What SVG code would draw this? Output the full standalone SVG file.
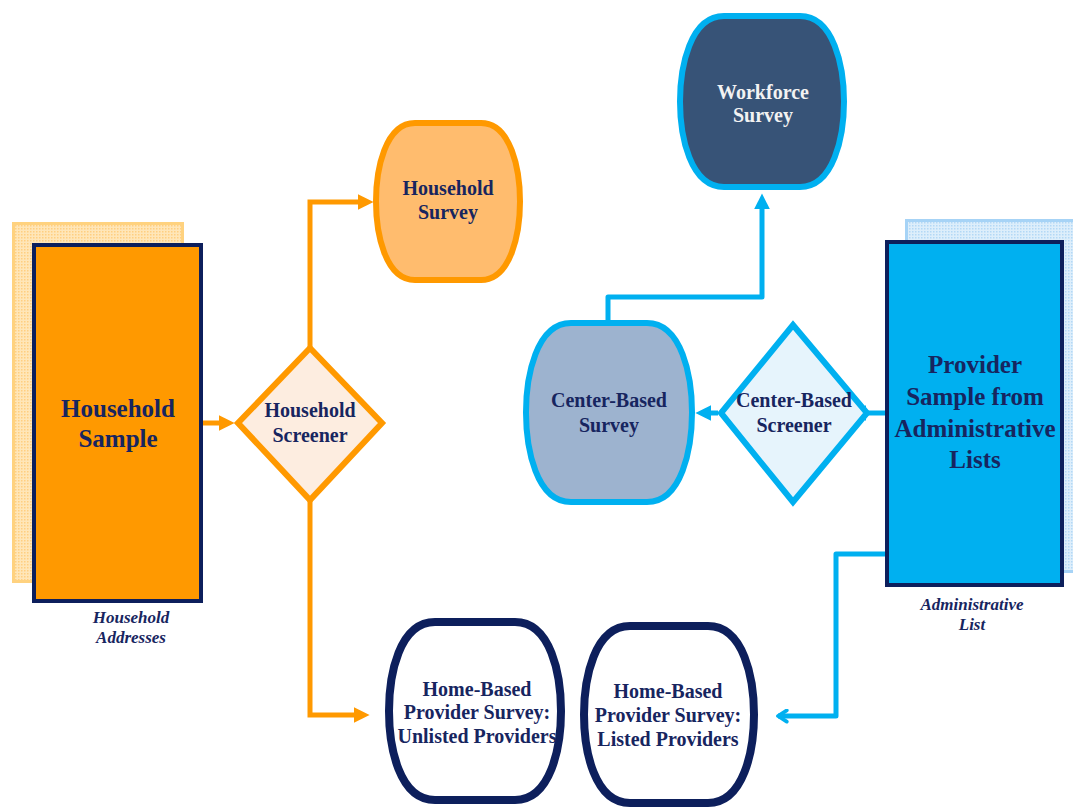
<svg xmlns="http://www.w3.org/2000/svg" width="1073" height="807" viewBox="0 0 1073 807">
  <defs>
    <pattern id="dotsOrange" width="3" height="3" patternUnits="userSpaceOnUse">
      <rect width="3" height="3" fill="#FFE6B8"/>
      <rect width="1.5" height="1.5" fill="#FFCF80"/>
    </pattern>
    <pattern id="dotsBlue" width="3" height="3" patternUnits="userSpaceOnUse">
      <rect width="3" height="3" fill="#DDEEFB"/>
      <rect width="1.5" height="1.5" fill="#B3D8F6"/>
    </pattern>
    <marker id="arrOrange" viewBox="0 0 10 10" refX="4" refY="5" markerWidth="16" markerHeight="16" markerUnits="userSpaceOnUse" orient="auto">
      <path d="M0,0 L10,5 L0,10 Z" fill="#FF9900"/>
    </marker>
    <marker id="arrBlue" viewBox="0 0 10 10" refX="4" refY="5" markerWidth="16" markerHeight="16" markerUnits="userSpaceOnUse" orient="auto">
      <path d="M0,0 L10,5 L0,10 Z" fill="#00B0F0"/>
    </marker>
    <marker id="chevBlue" viewBox="0 0 12 12" refX="10" refY="6" markerWidth="15" markerHeight="15" markerUnits="userSpaceOnUse" orient="auto">
      <path d="M3,1.5 L10,6 L3,10.5" fill="none" stroke="#00B0F0" stroke-width="3" stroke-linecap="round" stroke-linejoin="round"/>
    </marker>
  </defs>
  <style>
    .lbl { font-family: "Liberation Serif", "Times New Roman", serif; font-weight: bold; fill: #17255F; text-anchor: middle; }
    .big { font-size: 25px; }
    .mid { font-size: 20px; }
    .ital { font-family: "Liberation Serif", "Times New Roman", serif; font-weight: bold; font-style: italic; font-size: 17px; fill: #17255F; text-anchor: middle; }
    .white { fill: #F2F2F2; }
    .conO { fill: none; stroke: #FF9900; stroke-width: 5; stroke-linejoin: miter; }
    .conB { fill: none; stroke: #00B0F0; stroke-width: 5; stroke-linejoin: round; }
    .src { stroke: #0D1F5C; stroke-width: 4; }
  </style>
  <rect width="1073" height="807" fill="#FFFFFF"/>

  <g id="connectors">
    <path class="conO" d="M203,423 L225,423" marker-end="url(#arrOrange)"/>
    <path class="conO" d="M310,347 L310,202 L364,202" marker-end="url(#arrOrange)"/>
    <path class="conO" d="M310,500 L310,715 L360,715" marker-end="url(#arrOrange)"/>
    <path class="conB" d="M886,413 L860,413" marker-end="url(#arrBlue)"/>
    <path class="conB" d="M718,413 L705,413" marker-end="url(#arrBlue)"/>
    <path class="conB" d="M608,322 L608,297 L762,297 L762,203" marker-end="url(#arrBlue)"/>
    <path class="conB" d="M886,554 L836,554 L836,716 L778,716" marker-end="url(#chevBlue)"/>
  </g>

  <g id="household-sample">
    <rect x="13.5" y="223.5" width="169" height="358" fill="url(#dotsOrange)" stroke="#FFD27F" stroke-width="3"/>
    <rect class="src" x="34" y="245" width="167" height="356" fill="#FF9900"/>
    <text class="lbl big" x="118" y="417">Household</text>
    <text class="lbl big" x="118" y="447">Sample</text>
    <text class="ital" x="131" y="623">Household</text>
    <text class="ital" x="131" y="643">Addresses</text>
  </g>

  <g id="household-screener">
    <path d="M310,348 L382,423 L310,500 L238,423 Z" fill="#FDEDE0" stroke="#FF9900" stroke-width="6" stroke-linejoin="miter"/>
    <text class="lbl mid" x="310" y="417">Household</text>
    <text class="lbl mid" x="310" y="442">Screener</text>
  </g>

  <g id="household-survey">
    <path d="M415,123 L481,123 C511,123 520,170 520,201.5 C520,233 511,280 481,280 L415,280 C385,280 376,233 376,201.5 C376,170 385,123 415,123 Z" fill="#FFBC6E" stroke="#FF9900" stroke-width="6"/>
    <text class="lbl mid" x="448" y="195">Household</text>
    <text class="lbl mid" x="448" y="219">Survey</text>
  </g>

  <g id="workforce-survey">
    <path d="M724,16 L800,16 C834,16 844,67 844,101.5 C844,136 834,187 800,187 L724,187 C690,187 680,136 680,101.5 C680,67 690,16 724,16 Z" fill="#375377" stroke="#00B0F0" stroke-width="6"/>
    <text class="lbl mid white" x="763" y="99">Workforce</text>
    <text class="lbl mid white" x="763" y="122">Survey</text>
  </g>

  <g id="center-based-survey">
    <path d="M571,323 L647,323 C682,323 692,377 692,412.5 C692,448 682,502 647,502 L571,502 C536,502 526,448 526,412.5 C526,377 536,323 571,323 Z" fill="#9DB3CF" stroke="#00B0F0" stroke-width="6"/>
    <text class="lbl mid" x="609" y="407">Center-Based</text>
    <text class="lbl mid" x="609" y="432">Survey</text>
  </g>

  <g id="center-based-screener">
    <path d="M793,325 L867,413 L793,502 L721,413 Z" fill="#E6F4FC" stroke="#00B0F0" stroke-width="6" stroke-linejoin="miter"/>
    <text class="lbl mid" x="794" y="407">Center-Based</text>
    <text class="lbl mid" x="794" y="432">Screener</text>
  </g>

  <g id="provider-sample">
    <rect x="906.5" y="220.5" width="175" height="351" fill="url(#dotsBlue)" stroke="#A6D3F6" stroke-width="3"/>
    <rect class="src" x="887" y="242" width="175" height="343" fill="#00B0F0"/>
    <text class="lbl big" x="975" y="373">Provider</text>
    <text class="lbl big" x="975" y="405">Sample from</text>
    <text class="lbl big" x="975" y="437">Administrative</text>
    <text class="lbl big" x="975" y="468">Lists</text>
    <text class="ital" x="972" y="610">Administrative</text>
    <text class="ital" x="972" y="630">List</text>
  </g>

  <g id="home-based-unlisted">
    <path d="M435,622 L515,622 C551,622 561,675 561,711 C561,747 551,800 515,800 L435,800 C399,800 389,747 389,711 C389,675 399,622 435,622 Z" fill="#FFFFFF" stroke="#0D1F5C" stroke-width="8"/>
    <text class="lbl mid" x="477" y="696">Home-Based</text>
    <text class="lbl mid" x="477" y="719">Provider Survey:</text>
    <text class="lbl mid" x="477" y="743">Unlisted Providers</text>
  </g>

  <g id="home-based-listed">
    <path d="M630,626 L708,626 C744,626 754,679 754,714.5 C754,750 744,803 708,803 L630,803 C594,803 584,750 584,714.5 C584,679 594,626 630,626 Z" fill="#FFFFFF" stroke="#0D1F5C" stroke-width="8"/>
    <text class="lbl mid" x="668" y="698">Home-Based</text>
    <text class="lbl mid" x="668" y="722">Provider Survey:</text>
    <text class="lbl mid" x="668" y="746">Listed Providers</text>
  </g>
</svg>
